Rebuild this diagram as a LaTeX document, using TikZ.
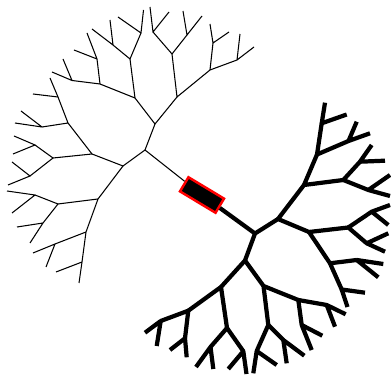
\documentclass[tikz,border=0pt]{standalone}
\usepackage{tikz}
\tikzset{
    twig/.style={
        line width=0.9pt,
        line join=round
    },
    bough/.style={
        line width=3.6pt,
        line join=round
    },
    slab/.style={
        draw=red,
        fill=black,
        line width=2.1pt,
        minimum width=1.245cm,
        minimum height=0.495cm,
        inner sep=0pt
    }
}

\begin{document}
\begin{tikzpicture}[x=0.03cm,y=-0.03cm]
%
    \useasboundingbox (0,0) rectangle (391,375);
%
    % thin tree, upper left
    \coordinate (t) at (145,150);
    \foreach \n/\x/\y in {
        1/155/124, 2/123/166,
        11/135/98, 12/177/97, 21/92/154, 22/98/199,
        111/130/59, 112/100/84, 121/172/54, 122/210/70,
        211/68/123, 212/53/158, 221/58/204, 222/86/232,
        1111/141/33, 1112/113/45, 1121/97/59, 1122/72/80.5,
        1211/153/32, 1212/187/35, 1221/213/43, 1222/237/60,
        2111/58/97, 2112/42/127, 2121/35/145, 2122/30/176,
        2211/35/195, 2212/43/223, 2221/55/244, 2222/82/262,
        11111/143.5/10, 11112/118/17, 11121/110/20, 11122/92/29,
        11211/87/33, 11212/74/50, 11221/63/59, 11222/52/72,
        12111/150/7, 12112/169/12, 12121/183/11, 12122/202/16,
        12211/210/24, 12212/229/32, 12221/240/34, 12222/254/47,
        21111/50/78, 21112/33/94, 21121/15/123, 21122/21/111,
        21211/14/136, 21212/13/154, 21221/12/162, 21222/8/185,
        22111/7/191, 22112/12/213, 22121/17/227, 22122/30/243,
        22211/33/253, 22212/46/267, 22221/56/272, 22222/79/283%
    }
        \coordinate (t\n) at (\x,\y);
%
    % thick tree, lower right
    \coordinate (k) at (255,233.5);
    \foreach \n/\x/\y in {
        1/278/219, 2/245/260.5,
        11/304/185, 12/309/232, 21/221/287, 22/263.5/286,
        111/317/154.5, 112/343.3/180, 121/348.3/227.5, 122/330/263.3,
        211/188.3/310.7, 212/227/328, 221/268.3/325, 222/298.3/300,
        1111/321.7/123.3, 1112/348.5/141, 1121/360/161.7, 1122/368.3/190,
        1211/371.7/211.7, 1212/366.7/243.3, 1221/356.7/260, 1222/341.7/289.5,
        2111/160.7/321, 2112/185/338.3, 2121/210.5/347, 2122/243.3/351.2,
        2211/256.7/351, 2212/283.3/340, 2221/301.7/325, 2222/326.7/305,
        11111/325/102.7, 11112/346.7/114.5, 11121/356.7/121.7, 11122/370/133.3,
        11211/371.7/145, 11212/385/160.7, 11221/390/175, 11222/390/196,
        12111/390/205, 12112/388.3/225, 12121/388.3/233.3, 12122/385/251.7,
        12211/383.3/264, 12212/378.3/277.3, 12221/365/292.7, 12222/347.5/307,
        21111/145/332.7, 21112/156.7/346, 21121/170/350, 21122/186.7/357.3,
        21211/196/367, 21212/213.3/369, 21221/228.3/369, 21222/246.5/374,
        22111/253.3/373.3, 22112/276.7/365, 22121/286.7/363.3, 22122/304.3/355.7,
        22211/311.7/350, 22212/322.3/335.7, 22221/335/326.7, 22222/345.7/314.3%
    }
        \coordinate (k\n) at (\x,\y);
%
    \node[
        slab,
        rotate=-31
    ]
    (box) at (202,195) {};
%
    % trunks
    \draw[twig] (box) -- (t);
    \draw[bough] (box) -- (k);
%
    % branches
    \draw[twig] (t1) -- (t) -- (t2);
    \draw[bough] (k1) -- (k) -- (k2);
    \foreach \n in {
        1,2,11,12,21,22,111,112,121,122,211,212,221,222,
        1111,1112,1121,1122,1211,1212,1221,1222,
        2111,2112,2121,2122,2211,2212,2221,2222%
    }{
        \draw[twig] (t\n1) -- (t\n) -- (t\n2);
        \draw[bough] (k\n1) -- (k\n) -- (k\n2);
    }
%
\end{tikzpicture}
\end{document}
